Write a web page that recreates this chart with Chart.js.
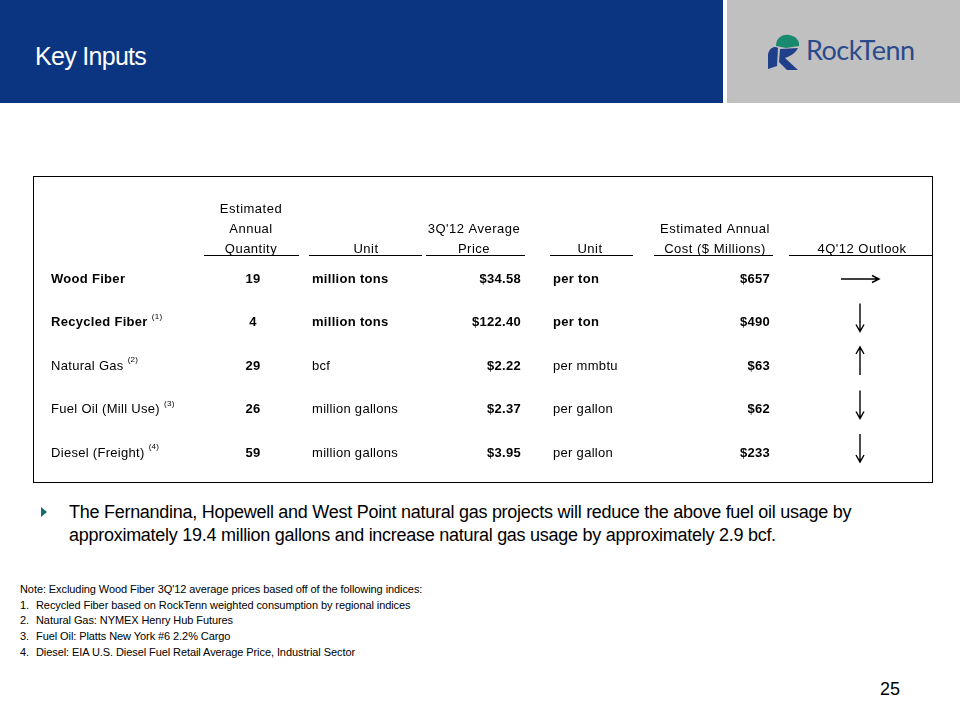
<!DOCTYPE html>
<html><head><meta charset="utf-8">
<script src="https://cdn.jsdelivr.net/npm/chart.js@4.4.0/dist/chart.umd.min.js"></script>
<style>
html,body{margin:0;padding:0;background:#fff;}
body{width:960px;height:720px;position:relative;overflow:hidden;font-family:"Liberation Sans",Arial,sans-serif;color:#000;}
#hdr{position:absolute;left:0;top:0;width:723px;height:103px;background:#0b3580;}
#logo{position:absolute;left:727px;top:0;width:233px;height:103px;background:#c0c0c0;}
#title{position:absolute;left:35px;top:39px;color:#fff;font-size:25px;line-height:34px;letter-spacing:-0.7px;white-space:nowrap;}
#logoText{position:absolute;left:806px;top:33px;color:#2a4a8c;font-family:Lato,"Open Sans",sans-serif;font-size:27px;line-height:34px;letter-spacing:-0.5px;}
#box{position:absolute;left:33px;top:176px;width:898px;height:305px;border:1px solid #000;}
#box canvas{display:block;}
#bullet{position:absolute;left:41px;top:507px;width:0;height:0;border-top:5px solid transparent;border-bottom:5px solid transparent;border-left:6px solid #1b6b70;}
#btext{position:absolute;left:69px;top:501px;width:880px;font-size:18px;line-height:23px;letter-spacing:-0.27px;}
#notes{position:absolute;left:20px;top:582px;font-size:11px;line-height:15.7px;white-space:nowrap;letter-spacing:-0.08px;}
#notes .n{display:inline-block;width:16px;}
#page{position:absolute;left:880px;top:678px;font-size:18px;line-height:22px;}
</style></head>
<body>
<div id="hdr"></div>
<div id="title">Key Inputs</div>
<div id="logo"></div>
<svg style="position:absolute;left:764px;top:32px" width="42" height="40" viewBox="0 0 42 40">
  <path d="M12 14 C12 6 18 2 25 3 C31 4 36 8 35 14 L22 16 Z" fill="#1a8a6e"/>
  <path d="M4 22 C6 15 11 14 14 16 L13 34 L4 37 Z" fill="#1f3f8a"/>
  <path d="M16 17 L34 16 C31 22 26 24 21 26 L34 38 L23 38 L15 30 Z" fill="#1f3f8a"/>
</svg>
<div id="logoText">RockTenn</div>

<div id="box"><canvas id="c" width="898" height="305"></canvas></div>

<div id="bullet"></div>
<div id="btext">The Fernandina, Hopewell and West Point natural gas projects will reduce the above fuel oil usage by approximately 19.4 million gallons and increase natural gas usage by approximately 2.9 bcf.</div>

<div id="notes">
<div>Note: Excluding Wood Fiber 3Q'12 average prices based off of the following indices:</div>
<div><span class="n">1.</span>Recycled Fiber based on RockTenn weighted consumption by regional indices</div>
<div><span class="n">2.</span>Natural Gas: NYMEX Henry Hub Futures</div>
<div><span class="n">3.</span>Fuel Oil: Platts New York #6 2.2% Cargo</div>
<div><span class="n">4.</span>Diesel: EIA U.S. Diesel Fuel Retail Average Price, Industrial Sector</div>
</div>
<div id="page">25</div>

<script>
// ---- data ----
const items = ['Wood Fiber', 'Recycled Fiber', 'Natural Gas', 'Fuel Oil (Mill Use)', 'Diesel (Freight)'];
const footnoteRefs = ['', '(1)', '(2)', '(3)', '(4)'];
const quantities = [19, 4, 29, 26, 59];
const quantityUnits = ['million tons', 'million tons', 'bcf', 'million gallons', 'million gallons'];
const avgPrices = [34.58, 122.40, 2.22, 2.37, 3.95];
const priceUnits = ['per ton', 'per ton', 'per mmbtu', 'per gallon', 'per gallon'];
const annualCosts = [657, 490, 63, 62, 233];
const outlook = ['flat', 'down', 'up', 'down', 'down'];
const headerQty = ['Estimated', 'Annual', 'Quantity'];
const headerUnit = ['Unit'];
const headerPrice = ["3Q'12 Average", 'Price'];
const headerUnit2 = ['Unit'];
const headerCost = ['Estimated Annual', 'Cost ($ Millions)'];
const headerOutlook = ["4Q'12 Outlook"];

// ---- layout (column anchors in x-scale units) ----
const cols = [
  {name:'item',   x:17,  align:'left',   text:i=>items[i], bold:i=>i<2, sup:i=>footnoteRefs[i]},
  {name:'qty',    x:219, align:'center', text:i=>String(quantities[i]), bold:()=>true, hx:217, ul:[170,265], head:headerQty},
  {name:'unit',   x:278, align:'left',   text:i=>quantityUnits[i], bold:i=>i<2, hx:332, ul:[275,388], head:headerUnit},
  {name:'price',  x:487, align:'right',  text:i=>'$'+avgPrices[i].toFixed(2), bold:()=>true, hx:440, ul:[392,491], head:headerPrice},
  {name:'unit2',  x:519, align:'left',   text:i=>priceUnits[i], bold:i=>i<2, hx:556, ul:[516,599], head:headerUnit2},
  {name:'cost',   x:736, align:'right',  text:i=>'$'+annualCosts[i], bold:()=>true, hx:681, ul:[620,739], head:headerCost},
  {name:'outlook',x:826, align:'center', arrow:i=>outlook[i], hx:828, ul:[755,898], head:headerOutlook}
];
const headerLineY = [-0.69, -1.15, -1.61]; // bottom-up header line offsets (row units)
const underlineY = -0.55;

const datasets = cols.map(c => ({
  label: c.name,
  data: items.map((_, i) => ({x: c.x, y: i})),
  pointRadius: 0,
  showLine: false
}));

function drawArrow(ctx, x, y, dir) {
  ctx.save();
  ctx.strokeStyle = '#000';
  ctx.lineWidth = 1.4;
  ctx.beginPath();
  if (dir === 'flat') {
    ctx.moveTo(x - 19, y); ctx.lineTo(x + 19, y);
    ctx.moveTo(x + 12, y - 3.5); ctx.lineTo(x + 19, y); ctx.lineTo(x + 12, y + 3.5);
  } else if (dir === 'down') {
    const cy = y - 5;
    ctx.moveTo(x, cy - 14); ctx.lineTo(x, cy + 14);
    ctx.moveTo(x - 4, cy + 7); ctx.lineTo(x, cy + 14); ctx.lineTo(x + 4, cy + 7);
  } else {
    const cy = y - 5;
    ctx.moveTo(x, cy + 14); ctx.lineTo(x, cy - 14);
    ctx.moveTo(x - 4, cy - 7); ctx.lineTo(x, cy - 14); ctx.lineTo(x + 4, cy - 7);
  }
  ctx.stroke();
  ctx.restore();
}

const tablePlugin = {
  id: 'tableText',
  afterDatasetsDraw(chart) {
    const ctx = chart.ctx;
    const xs = chart.scales.x, ys = chart.scales.y;
    const hasLS = ('letterSpacing' in ctx);
    ctx.save();
    ctx.fillStyle = '#000';
    ctx.textBaseline = 'middle';
    // headers
    ctx.font = '13px "Liberation Sans", Arial, sans-serif';
    ctx.textAlign = 'center';
    cols.forEach(c => {
      if (!c.head) return;
      if (hasLS) ctx.letterSpacing = '0.5px';
      const lines = c.head.slice().reverse();
      lines.forEach((t, k) => ctx.fillText(t, xs.getPixelForValue(c.hx), ys.getPixelForValue(headerLineY[k])));
      ctx.beginPath();
      ctx.lineWidth = 1;
      ctx.strokeStyle = '#000';
      const uy = Math.round(ys.getPixelForValue(underlineY)) + 0.5;
      ctx.moveTo(xs.getPixelForValue(c.ul[0]), uy);
      ctx.lineTo(xs.getPixelForValue(c.ul[1]), uy);
      ctx.stroke();
    });
    if (hasLS) ctx.letterSpacing = '0.3px';
    // body cells
    chart.data.datasets.forEach((ds, di) => {
      const c = cols[di];
      const meta = chart.getDatasetMeta(di);
      meta.data.forEach((el, i) => {
        if (c.arrow) { drawArrow(ctx, el.x, el.y, c.arrow(i)); return; }
        ctx.font = (c.bold(i) ? 'bold ' : '') + '13px "Liberation Sans", Arial, sans-serif';
        ctx.textAlign = c.align;
        const t = c.text(i);
        ctx.fillText(t, el.x, el.y);
        if (c.sup && c.sup(i)) {
          const w = ctx.measureText(t).width;
          ctx.font = '8px "Liberation Sans", Arial, sans-serif';
          ctx.textAlign = 'left';
          ctx.fillText(c.sup(i), el.x + w + 4, el.y - 6);
        }
      });
    });
    ctx.restore();
  }
};

new Chart(document.getElementById('c'), {
  type: 'scatter',
  data: { datasets },
  options: {
    responsive: false,
    animation: false,
    events: [],
    layout: { padding: 0 },
    plugins: { legend: { display: false }, tooltip: { enabled: false } },
    scales: {
      x: { type: 'linear', display: false, min: 0, max: 898 },
      y: { type: 'linear', display: false, reverse: true, min: -2.345, max: 4.667 }
    }
  },
  plugins: [tablePlugin]
});
</script>
</body></html>
